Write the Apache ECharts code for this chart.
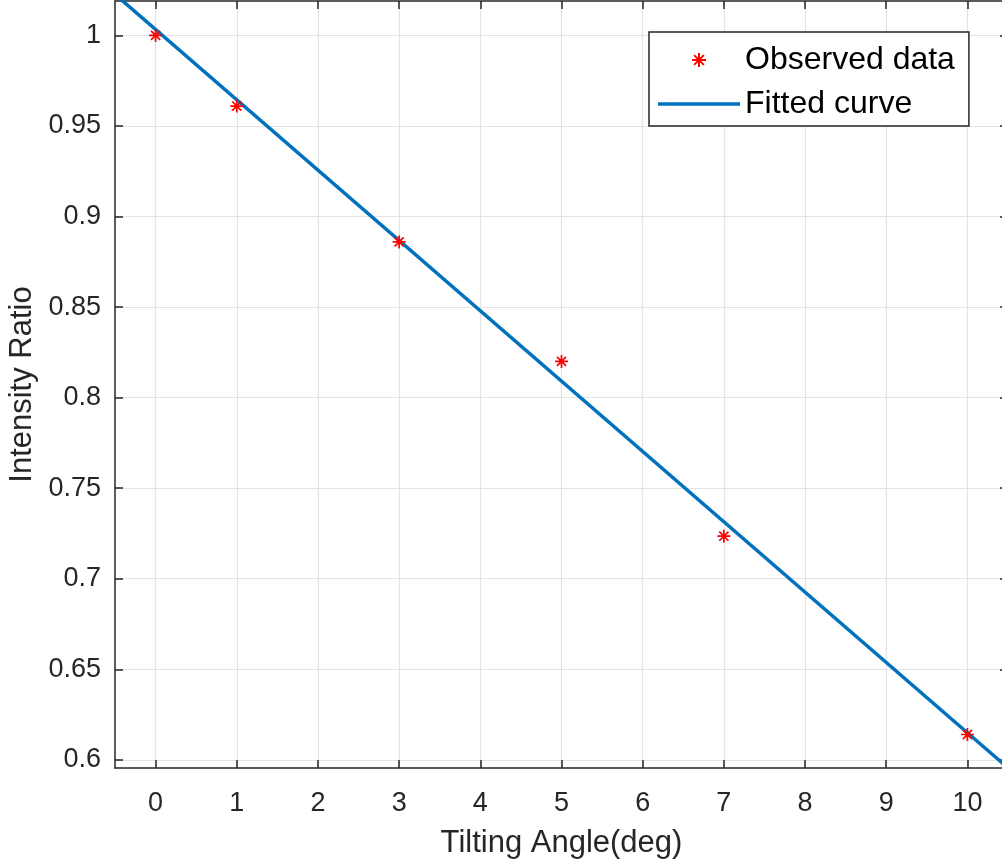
<!DOCTYPE html>
<html>
<head>
<meta charset="utf-8">
<script src="https://cdn.jsdelivr.net/npm/echarts@6/dist/echarts.min.js"></script>
<style>
html,body{margin:0;padding:0;background:#fff;}
#chart{width:1002px;height:865px;}
</style>
</head>
<body>
<div id="chart"></div>
<script>
// Observed data
const obsX = [0, 1, 3, 5, 7, 10];
const obsY = [1.0, 0.961, 0.886, 0.820, 0.7235, 0.614];
// Fitted curve (read at the plot edges)
const fitX = [-0.5, 10.5];
const fitY = [1.0227, 0.5955];
// Tick labels
const xTicks = [0, 1, 2, 3, 4, 5, 6, 7, 8, 9, 10];
const yTicks = [0.6, 0.65, 0.7, 0.75, 0.8, 0.85, 0.9, 0.95, 1];

const FONT = '"Liberation Sans", Arial, Helvetica, sans-serif';
const AX = '#262626';
const GRID = '#e3e3e3';

const chart = echarts.init(document.getElementById('chart'), null, {renderer: 'canvas'});

const asterisk = 'path://M5,0 L5,10 M0,5 L10,5 M1.5,1.5 L8.5,8.5 M1.5,8.5 L8.5,1.5';
const lineIcon = 'path://M0,0 L82,0 L82,3.5 L0,3.5 Z';

const option = {
  animation: false,
  backgroundColor: '#ffffff',
  textStyle: {fontFamily: FONT},
  grid: {left: 115, top: 1, width: 893, height: 767, containLabel: false, outerBoundsMode: 'none'},
  legend: {
    orient: 'vertical',
    left: 649, top: 32,
    padding: [12, 14, 6, 9],
    itemWidth: 82, itemHeight: 14, itemGap: 12,
    backgroundColor: '#ffffff',
    borderColor: AX, borderWidth: 1.5, borderRadius: 0,
    textStyle: {fontFamily: FONT, fontSize: 32, color: '#000'},
    data: [
      {name: 'Observed data'},
      {name: 'Fitted curve', icon: lineIcon, itemStyle: {color: '#0072BD'}}
    ]
  },
  xAxis: [{
    type: 'value', min: -0.5, max: 10.5,
    name: 'Tilting Angle(deg)', nameLocation: 'middle', nameGap: 60,
    nameTextStyle: {fontFamily: FONT, fontSize: 31, color: AX},
    axisLine: {show: true, onZero: false, lineStyle: {color: AX, width: 1.5}},
    axisTick: {show: true, inside: true, length: 8, customValues: xTicks, lineStyle: {color: AX, width: 1.5}},
    axisLabel: {customValues: xTicks, fontFamily: FONT, fontSize: 27, color: AX, margin: 22},
    splitLine: {show: true, lineStyle: {color: GRID, width: 1.2}}
  }, {
    type: 'value', min: -0.5, max: 10.5, position: 'top',
    axisLine: {show: true, onZero: false, lineStyle: {color: AX, width: 1.5}},
    axisTick: {show: true, inside: true, length: 8, customValues: xTicks, lineStyle: {color: AX, width: 1.5}},
    axisLabel: {show: false},
    splitLine: {show: false}
  }],
  yAxis: [{
    type: 'value', min: 0.5955, max: 1.019,
    name: 'Intensity Ratio', nameLocation: 'middle', nameGap: 77, nameRotate: 90,
    nameTextStyle: {fontFamily: FONT, fontSize: 31, color: AX},
    axisLine: {show: true, onZero: false, lineStyle: {color: AX, width: 1.5}},
    axisTick: {show: true, inside: true, length: 8, customValues: yTicks, lineStyle: {color: AX, width: 1.5}},
    axisLabel: {customValues: yTicks, fontFamily: FONT, fontSize: 27, color: AX, margin: 14},
    splitLine: {show: true, lineStyle: {color: GRID, width: 1.2}}
  }, {
    type: 'value', min: 0.5955, max: 1.019, position: 'right',
    axisLine: {show: true, onZero: false, lineStyle: {color: AX, width: 1.5}},
    axisTick: {show: true, inside: true, length: 8, customValues: yTicks, lineStyle: {color: AX, width: 1.5}},
    axisLabel: {show: false},
    splitLine: {show: false}
  }],
  series: [{
    name: 'Fitted curve',
    type: 'line',
    xAxisIndex: 0, yAxisIndex: 0,
    data: fitX.map((x, i) => [x, fitY[i]]),
    symbol: 'none',
    lineStyle: {color: '#0072BD', width: 3.5},
    itemStyle: {color: '#0072BD'},
    z: 2,
    emphasis: {disabled: true}
  }, {
    name: 'Observed data',
    type: 'scatter',
    xAxisIndex: 0, yAxisIndex: 0,
    data: obsX.map((x, i) => [x, obsY[i]]),
    symbol: asterisk,
    symbolSize: 13,
    itemStyle: {color: 'rgba(0,0,0,0)', borderColor: '#ff0000', borderWidth: 1.7, opacity: 1},
    z: 3,
    emphasis: {disabled: true}
  }]
};
chart.setOption(option);
</script>
</body>
</html>
